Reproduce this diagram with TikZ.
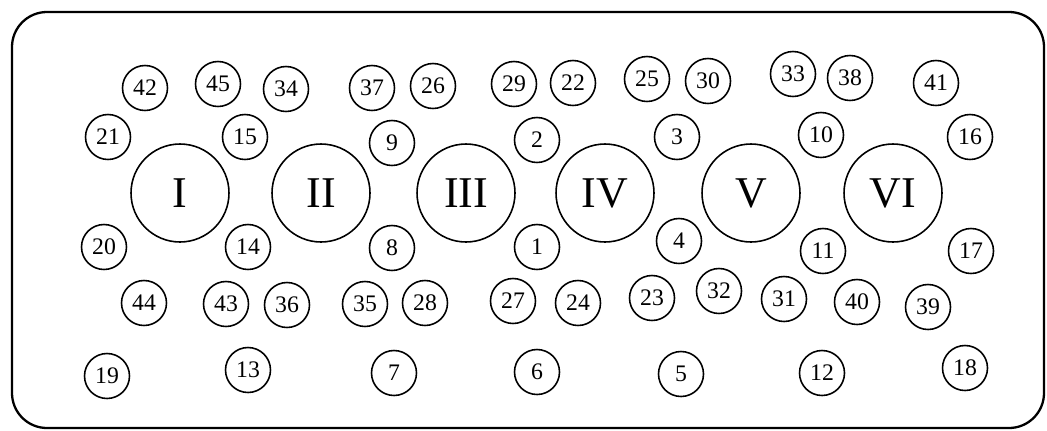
\documentclass[tikz,border=0pt]{standalone}
\usepackage{fontspec}
\setmainfont{Liberation Serif}
\begin{document}
\begin{tikzpicture}[x=0.02cm,y=-0.02cm,
  sm/.style={draw,circle,line width=0.9pt,minimum size=0.9cm,inner sep=0pt,font=\fontsize{13.5}{14}\selectfont},
  big/.style={draw,circle,line width=0.9pt,minimum size=1.96cm,inner sep=0pt,font=\fontsize{25}{26}\selectfont},
  plate/.style={draw,line width=1.3pt,rounded corners=0.7cm}]
\useasboundingbox (0,0) rectangle (1047,430);
\draw[plate] (12,12) rectangle (1044,428);
% large circles
\node[big] (r1) at (180,193) {I};
\node[big] (r2) at (321,193) {II};
\node[big] (r3) at (466,193) {III};
\node[big] (r4) at (605,193) {IV};
\node[big] (r5) at (751,193) {V};
\node[big] (r6) at (893,193) {VI};
% top row
\node[sm] (n42) at (145,88) {42};
\node[sm] (n45) at (218,84) {45};
\node[sm] (n34) at (286,89) {34};
\node[sm] (n37) at (372,88) {37};
\node[sm] (n26) at (433,86) {26};
\node[sm] (n29) at (514,84) {29};
\node[sm] (n22) at (573,83) {22};
\node[sm] (n25) at (647,79) {25};
\node[sm] (n30) at (708,81) {30};
\node[sm] (n33) at (793,74) {33};
\node[sm] (n38) at (850,78) {38};
\node[sm] (n41) at (936,83) {41};
% second row
\node[sm] (n21) at (108,137) {21};
\node[sm] (n15) at (245,137) {15};
\node[sm] (n9) at (392,143) {9};
\node[sm] (n2) at (537,140) {2};
\node[sm] (n3) at (677,137) {3};
\node[sm] (n10) at (821,135) {10};
\node[sm] (n16) at (970,137) {16};
% third row
\node[sm] (n20) at (104,247) {20};
\node[sm] (n14) at (248,247) {14};
\node[sm] (n8) at (392,248) {8};
\node[sm] (n1) at (537,247) {1};
\node[sm] (n4) at (679,241) {4};
\node[sm] (n11) at (823,251) {11};
\node[sm] (n17) at (971,251) {17};
% fourth row
\node[sm] (n44) at (144,303) {44};
\node[sm] (n43) at (226,304) {43};
\node[sm] (n36) at (287,305) {36};
\node[sm] (n35) at (365,304) {35};
\node[sm] (n28) at (425,303) {28};
\node[sm] (n27) at (513,301) {27};
\node[sm] (n24) at (578,303) {24};
\node[sm] (n23) at (652,298) {23};
\node[sm] (n32) at (719,291) {32};
\node[sm] (n31) at (784,299) {31};
\node[sm] (n40) at (857,302) {40};
\node[sm] (n39) at (928,307) {39};
% bottom row
\node[sm] (n19) at (107,376) {19};
\node[sm] (n13) at (248,370) {13};
\node[sm] (n7) at (394,373) {7};
\node[sm] (n6) at (537,372) {6};
\node[sm] (n5) at (681,374) {5};
\node[sm] (n12) at (822,373) {12};
\node[sm] (n18) at (965,368) {18};
\end{tikzpicture}
\end{document}
